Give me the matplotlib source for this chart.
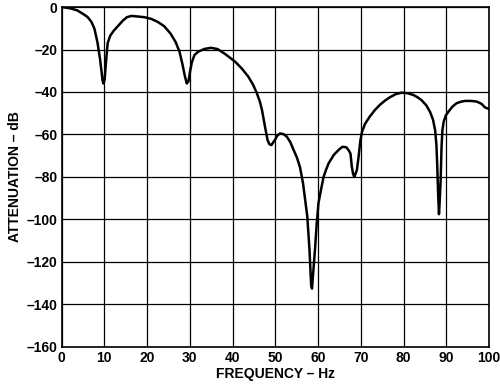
import matplotlib
matplotlib.use("Agg")
import matplotlib.pyplot as plt
from matplotlib.ticker import FuncFormatter

# frequency response
freq_hz = [
    0, 2, 3.7, 5, 6.1, 7, 7.7, 8.4, 9, 9.4, 9.6, 9.8, 10.1, 10.4, 10.8, 11.4,
    12.2, 13.2, 14.3, 15.3, 16.3, 17.5, 19.4, 21, 22.5, 24, 25.5, 26.7, 27.6,
    28.3, 28.8, 29.3, 29.7, 30.1, 30.5, 31.1, 32, 33.5, 35, 36.5, 38.2, 40.6,
    42.2, 43.7, 44.8, 45.7, 46.4, 46.9, 47.6, 48.2, 48.6, 49.1, 49.9, 50.5,
    51.1, 51.9, 52.7, 53.5, 54.3, 55.1, 55.8, 56.5, 57, 57.5, 58, 58.4, 58.6,
    58.8, 59.3, 59.7, 60.1, 60.7, 61.3, 61.9, 62.5, 63.7, 64.8, 65.7, 66.6,
    67.2, 67.6, 67.9, 68.2, 68.5, 69.1, 69.5, 69.9, 70.3, 71, 72.1, 73.3,
    74.5, 75.7, 76.8, 78.2, 79.6, 81, 82.3, 83.3, 84.2, 85.3, 86.2, 86.9,
    87.4, 87.7, 87.9, 88.1, 88.3, 88.5, 88.7, 88.8, 88.9, 89.1, 89.4, 89.9,
    90.5, 91.4, 92.4, 93.4, 94.4, 95.8, 97.1, 98.2, 99.1, 100,
]
atten_db = [
    0, -0.6, -1.6, -3.2, -4.7, -7, -10.2, -16.5, -24.3, -31, -34.5, -36,
    -34, -26, -17, -13.5, -11.2, -9, -6.5, -4.8, -4.2, -4.4, -4.8, -5.6, -7,
    -9, -12.5, -16.5, -21, -27, -32, -36, -35, -30, -26, -22.6, -21, -19.7,
    -19.2, -19.8, -22, -25.7, -29, -32.8, -36.5, -40.6, -44.5, -48.5, -56.3,
    -62.6, -64.5, -65, -62.6, -60.5, -59.5, -59.8, -61, -63.5, -67.3, -71,
    -75.5, -83, -90.8, -98.7, -114, -131, -132.5, -127, -114, -102, -92.4,
    -86, -80, -76.5, -73.5, -69.6, -67.3, -65.8, -66, -67.5, -69, -75, -78.5,
    -80, -76.7, -70.4, -63, -58.7, -55, -51.6, -48.5, -46, -44, -42.5, -41,
    -40.3, -40.6, -41.4, -42.5, -43.8, -46.2, -49.3, -53, -58, -65, -75, -88,
    -97.5, -90, -81, -73, -65.7, -58, -54, -51, -49.3, -47, -45.3, -44.6,
    -44.2, -44.2, -44.5, -45.5, -47.3, -48,
]

x_ticks = list(range(0, 101, 10))
y_ticks = list(range(-160, 1, 20))

plt.rcParams["font.family"] = ["Liberation Sans", "DejaVu Sans"]
plt.rcParams["font.weight"] = "bold"

fig = plt.figure(figsize=(5, 3.89), dpi=100)
ax = fig.add_axes([0.123, 0.108, 0.855, 0.874])

ax.plot(freq_hz, atten_db, color="black", linewidth=1.8, solid_joinstyle="round", zorder=3)

ax.set_xlim(0, 100)
ax.set_ylim(-160, 0)
ax.set_xticks(x_ticks)
ax.set_yticks(y_ticks)
ax.grid(True, color="black", linewidth=0.9, zorder=1)
ax.tick_params(length=0, labelsize=10, pad=3)

dash = FuncFormatter(lambda v, pos: f"{v:.0f}".replace("-", "\u2013"))
ax.xaxis.set_major_formatter(dash)
ax.yaxis.set_major_formatter(dash)
for lbl in ax.get_xticklabels() + ax.get_yticklabels():
    lbl.set_fontweight("bold")

for s in ax.spines.values():
    s.set_linewidth(1.2)

ax.set_xlabel("FREQUENCY \u2013 Hz", fontsize=10, fontweight="bold", labelpad=1)
ax.set_ylabel("ATTENUATION \u2013 dB", fontsize=10, fontweight="bold", labelpad=3)

fig.savefig("out.png", dpi=100)
